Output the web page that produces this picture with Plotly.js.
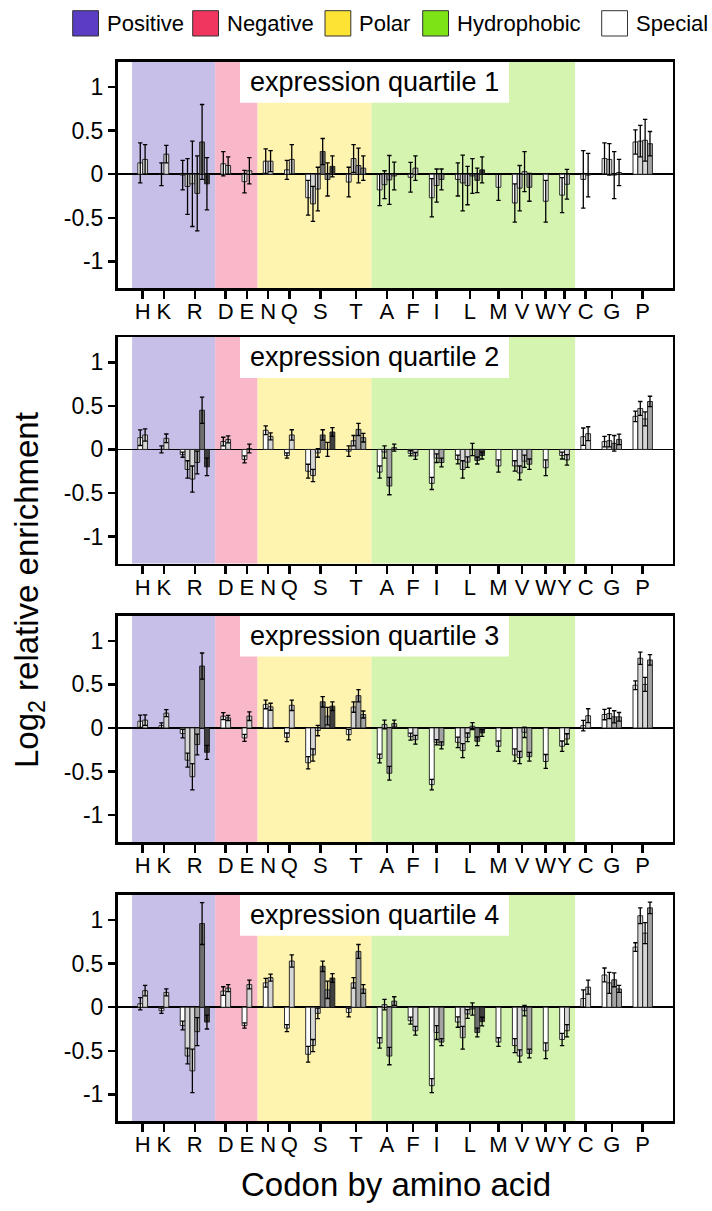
<!DOCTYPE html>
<html>
<head>
<meta charset="utf-8">
<script src="https://cdn.plot.ly/plotly-3.0.1.min.js"></script>
<style>
  html, body { margin: 0; padding: 0; background: #fff; }
  #chart { width: 712px; height: 1211px; }
</style>
</head>
<body>
<div id="chart"></div>
<script>
// ---------------- DATA ----------------
const aminoAcids  = ['H','K','R','D','E','N','Q','S','T','A','F','I','L','M','V','W','Y','C','G','P'];
const codonCounts = [ 2,  2,  6,  2,  2,  2,  2,  6,  4,  4,  2,  3,  6,  1,  4,  1,  2,  2,  4,  4 ];

// shade level of each codon bar (0 = white ... 4 = darkest)
const codonShades = [
  0,1,  0,1,  0,1,1,2,3,4,  0,1,  0,1,  0,1,  0,1,  0,1,1,3,2,4,  0,1,2,2,
  0,1,2,2,  0,1,  0,1,2,  0,1,1,2,3,4,  0,  0,1,1,2,  0,  0,1,  0,1,  0,1,2,2,  0,1,1,2
];

const categoryNames   = ['Positive','Negative','Polar','Hydrophobic','Special'];
const categoryMembers = [['H','K','R'],['D','E'],['N','Q','S','T'],['A','F','I','L','M','V','W','Y'],['C','G','P']];

const panelTitles = ['expression quartile 1','expression quartile 2','expression quartile 3','expression quartile 4'];

const q1Values = [0.13,0.17,  0.0,0.23,  -0.01,-0.14,-0.11,-0.22,0.37,-0.11,  0.12,0.10,  -0.085,0.04,  0.15,0.15,  0.05,0.17,  -0.27,-0.34,-0.17,0.26,-0.06,0.09,  -0.09,0.18,0.10,0.07,  -0.18,-0.12,-0.065,-0.02,  -0.035,0.07,  -0.27,-0.13,-0.06,  -0.06,-0.10,-0.13,-0.02,-0.07,0.05,  -0.15,  -0.33,-0.16,0.03,-0.15,  -0.31,  -0.24,-0.115,  -0.06,-0.01,  0.18,0.17,-0.01,0.02,  0.37,0.38,0.39,0.35];
const q1Errors = [0.23,0.17,  0.13,0.10,  0.17,0.32,0.49,0.43,0.43,0.30,  0.14,0.10,  0.13,0.15,  0.14,0.12,  0.11,0.17,  0.20,0.20,0.25,0.15,0.19,0.12,  0.17,0.16,0.20,0.14,  0.18,0.16,0.28,0.16,  0.17,0.14,  0.22,0.19,0.12,  0.19,0.32,0.22,0.20,0.14,0.15,  0.15,  0.22,0.26,0.23,0.16,  0.24,  0.20,0.17,  0.33,0.25,  0.18,0.18,0.27,0.15,  0.14,0.18,0.24,0.14];

const q2Values = [0.135,0.166,  0.0,0.127,  -0.06,-0.23,-0.34,-0.15,0.45,-0.20,  0.09,0.115,  -0.115,0.01,  0.22,0.15,  -0.07,0.166,  -0.25,-0.30,-0.04,0.166,0.0,0.20,  -0.02,0.10,0.23,0.135,  -0.26,-0.03,-0.42,0.02,  -0.045,-0.075,  -0.39,-0.10,-0.15,  -0.115,-0.23,-0.146,0.0,-0.127,-0.07,  -0.19,  -0.19,-0.27,-0.135,-0.17,  -0.21,  -0.07,-0.12,  0.146,0.18,  0.09,0.10,0.07,0.115,  0.38,0.47,0.35,0.55];
const q2Errors = [0.09,0.07,  0.04,0.05,  0.03,0.10,0.15,0.13,0.15,0.10,  0.05,0.04,  0.04,0.05,  0.05,0.04,  0.03,0.06,  0.08,0.07,0.05,0.06,0.08,0.05,  0.06,0.06,0.07,0.05,  0.07,0.07,0.10,0.04,  0.03,0.04,  0.07,0.05,0.05,  0.05,0.10,0.06,0.07,0.04,0.04,  0.07,  0.06,0.08,0.07,0.06,  0.09,  0.04,0.06,  0.10,0.08,  0.06,0.07,0.09,0.06,  0.06,0.08,0.08,0.06];

const q3Values = [0.077,0.09,  0.027,0.17,  -0.065,-0.37,-0.56,-0.19,0.71,-0.28,  0.135,0.115,  -0.115,0.135,  0.27,0.243,  -0.108,0.26,  -0.40,-0.31,-0.03,0.30,0.135,0.25,  -0.077,0.24,0.37,0.154,  -0.35,0.04,-0.52,0.05,  -0.10,-0.135,  -0.65,-0.165,-0.20,  -0.165,-0.26,-0.108,0.02,-0.154,-0.058,  -0.21,  -0.31,-0.34,-0.05,-0.33,  -0.385,  -0.21,-0.127,  0.027,0.14,  0.154,0.166,0.127,0.127,  0.49,0.80,0.50,0.78];
const q3Errors = [0.07,0.06,  0.03,0.04,  0.05,0.08,0.15,0.12,0.15,0.08,  0.04,0.03,  0.04,0.05,  0.05,0.04,  0.05,0.06,  0.07,0.07,0.06,0.06,0.10,0.05,  0.06,0.06,0.07,0.04,  0.05,0.05,0.08,0.04,  0.04,0.05,  0.06,0.03,0.04,  0.06,0.08,0.05,0.04,0.05,0.04,  0.06,  0.07,0.07,0.06,0.05,  0.08,  0.06,0.06,  0.06,0.08,  0.06,0.06,0.07,0.05,  0.05,0.07,0.08,0.06];

const q4Values = [0.04,0.19,  -0.04,0.17,  -0.21,-0.56,-0.73,-0.28,0.96,-0.17,  0.185,0.22,  -0.21,0.26,  0.28,0.34,  -0.24,0.53,  -0.54,-0.44,-0.07,0.47,0.20,0.335,  -0.06,0.28,0.64,0.21,  -0.41,0.03,-0.56,0.07,  -0.154,-0.27,  -0.90,-0.29,-0.40,  -0.17,-0.35,-0.077,-0.02,-0.29,-0.165,  -0.40,  -0.44,-0.56,-0.04,-0.53,  -0.50,  -0.37,-0.27,  0.10,0.23,  0.37,0.28,0.315,0.21,  0.69,1.05,0.85,1.14];
const q4Errors = [0.07,0.06,  0.03,0.04,  0.05,0.09,0.25,0.16,0.24,0.08,  0.05,0.04,  0.03,0.05,  0.05,0.04,  0.04,0.07,  0.09,0.07,0.06,0.06,0.10,0.05,  0.05,0.06,0.08,0.05,  0.06,0.06,0.10,0.05,  0.04,0.05,  0.08,0.08,0.04,  0.06,0.13,0.05,0.07,0.05,0.05,  0.05,  0.08,0.07,0.06,0.05,  0.09,  0.07,0.07,  0.10,0.08,  0.08,0.12,0.08,0.04,  0.05,0.09,0.12,0.065];

const yTickVals = [-1, -0.5, 0, 0.5, 1];
const yTickText = ['-1', '-0.5', '0', '0.5', '1'];

// ---------------- STYLE ----------------
const W = 712, H = 1211;
const FONT = 'Liberation Sans, Arial, sans-serif';
const shadeColors = ['#ffffff', '#d6d6d6', '#a3a3a3', '#6f6f6f', '#3f3f3f'];
const legendColors = ['#5b3cc4', '#f0365f', '#fde334', '#7de316', '#ffffff'];
const bgColors     = ['#c8bfe8', '#f8b8c9', '#fff3b0', '#d4f4b0', null];
const GAP = 2.37;
const X_RANGE = [-4.19, 110.17];
const Y_RANGE = [-1.31, 1.29];
const plotLeft = 117.5, plotRight = 672.5;
const panelTops = [61.8, 337, 615.5, 894.8];
const panelHeight = 226.6;

const px = v => v / W;
const py = v => 1 - v / H;

const groupStarts = [];
let acc = 0;
codonCounts.forEach(n => { groupStarts.push(acc); acc += n + GAP; });
const codonX = [];
const groupCenters = [];
codonCounts.forEach((n, i) => {
  for (let j = 0; j < n; j++) codonX.push(groupStarts[i] + j + 0.5);
  groupCenters.push(groupStarts[i] + n / 2);
});
const barColors = codonShades.map(s => shadeColors[s]);

const allValues = [q1Values, q2Values, q3Values, q4Values];
const allErrors = [q1Errors, q2Errors, q3Errors, q4Errors];

const traces = [];
const layout = {
  width: W, height: H,
  margin: {l: 0, r: 0, t: 0, b: 0},
  paper_bgcolor: '#fff', plot_bgcolor: '#fff',
  showlegend: false,
  bargap: 0,
  font: {family: FONT, color: '#000'},
  shapes: [], annotations: []
};

for (let p = 0; p < 4; p++) {
  const sfx = p === 0 ? '' : String(p + 1);
  traces.push({
    type: 'bar',
    x: codonX,
    y: allValues[p],
    width: 1,
    xaxis: 'x' + sfx, yaxis: 'y' + sfx,
    marker: {color: barColors, line: {color: '#1a1a1a', width: 0.9}},
    error_y: {type: 'data', array: allErrors[p], visible: true, color: '#000', thickness: 1.3, width: 2.2},
    hoverinfo: 'skip'
  });
  const top = panelTops[p], bot = top + panelHeight;
  layout['xaxis' + sfx] = {
    domain: [px(plotLeft), px(plotRight)],
    anchor: 'y' + sfx,
    range: X_RANGE,
    tickmode: 'array', tickvals: groupCenters, ticktext: aminoAcids,
    tickangle: 0, ticklabelstandoff: -6,
    ticks: 'outside', ticklen: 8, tickwidth: 2.5, tickcolor: '#000',
    tickfont: {family: FONT, size: 22, color: '#000'},
    showline: true, mirror: true, linewidth: 2.5, linecolor: '#000',
    showgrid: false, zeroline: false, fixedrange: true
  };
  layout['yaxis' + sfx] = {
    domain: [py(bot), py(top)],
    anchor: 'x' + sfx,
    range: Y_RANGE,
    tickmode: 'array', tickvals: yTickVals, ticktext: yTickText,
    ticks: 'outside', ticklen: 7, tickwidth: 2.5, tickcolor: '#000',
    tickfont: {family: FONT, size: 23, color: '#000'},
    showline: true, mirror: true, linewidth: 2.5, linecolor: '#000',
    showgrid: false, zeroline: true, zerolinecolor: '#000', zerolinewidth: 1.6,
    fixedrange: true
  };
  categoryMembers.forEach((members, c) => {
    if (!bgColors[c]) return;
    const first = aminoAcids.indexOf(members[0]);
    const last = aminoAcids.indexOf(members[members.length - 1]);
    layout.shapes.push({
      type: 'rect', layer: 'below', xref: 'x' + sfx, yref: 'y' + sfx + ' domain',
      x0: groupStarts[first] - GAP / 2, x1: groupStarts[last] + codonCounts[last] + GAP / 2,
      y0: 0, y1: 1, fillcolor: bgColors[c], line: {width: 0}
    });
  });
  layout.shapes.push({
    type: 'rect', layer: 'below', xref: 'paper', yref: 'paper',
    x0: px(240), x1: px(509), y0: py(top + 41), y1: py(top),
    fillcolor: '#fff', line: {width: 0}
  });
  layout.annotations.push({
    xref: 'paper', yref: 'paper', x: px(374.5), y: py(top + 20.5),
    xanchor: 'center', yanchor: 'middle', showarrow: false,
    text: panelTitles[p], font: {family: FONT, size: 27, color: '#000'}
  });
}

const legendSwatchX = [72.7, 192.7, 325, 422.7, 601.7];
categoryNames.forEach((name, c) => {
  const x0 = legendSwatchX[c];
  layout.shapes.push({
    type: 'rect', xref: 'paper', yref: 'paper',
    x0: px(x0), x1: px(x0 + 25.8), y0: py(36), y1: py(10.7),
    fillcolor: legendColors[c], line: {color: '#333', width: 1}
  });
  layout.annotations.push({
    xref: 'paper', yref: 'paper', x: px(x0 + 32), y: py(23.5),
    xanchor: 'left', yanchor: 'middle', showarrow: false,
    text: name, font: {family: FONT, size: 22, color: '#000'}
  });
});

layout.annotations.push({
  xref: 'paper', yref: 'paper', x: px(29), y: py(590),
  xanchor: 'center', yanchor: 'middle', showarrow: false, textangle: -90,
  text: 'Log<sub>2</sub> relative enrichment', font: {family: FONT, size: 33, color: '#000'}
});
layout.annotations.push({
  xref: 'paper', yref: 'paper', x: px(396), y: py(1184),
  xanchor: 'center', yanchor: 'middle', showarrow: false,
  text: 'Codon by amino acid', font: {family: FONT, size: 33, color: '#000'}
});

Plotly.newPlot('chart', traces, layout, {staticPlot: true, displayModeBar: false});
</script>
</body>
</html>
